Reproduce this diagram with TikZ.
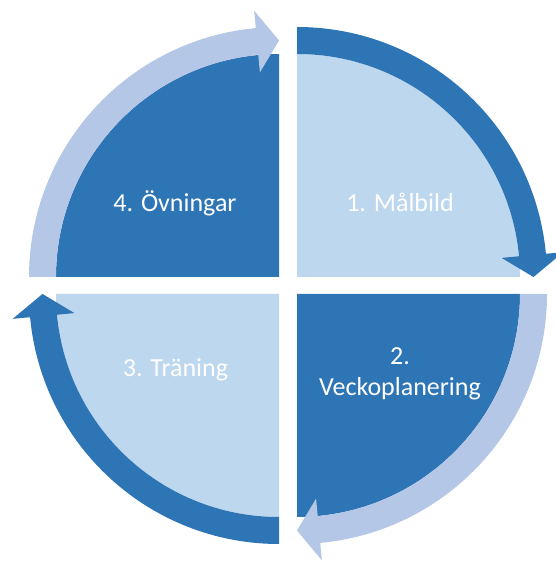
\documentclass[tikz,border=0pt]{standalone}
\usepackage{fontspec}
\setmainfont{Carlito}
\definecolor{darkq}{HTML}{2E75B6}
\definecolor{lightq}{HTML}{BDD7EE}
\definecolor{lightarr}{HTML}{B4C7E7}
\begin{document}
\begin{tikzpicture}[x=1pt,y=1pt,
  lbl/.style={text=white,font=\fontsize{26}{31}\selectfont,align=center,inner sep=0pt,anchor=base}]
\useasboundingbox (0,0) rectangle (556,563);
\clip (0,0) rectangle (556,563);
% top-left quadrant and its arrow
\begin{scope}[shift={(279,286)}]
  \fill[darkq] (0,0) -- (90:223) arc[start angle=90,end angle=180,radius=223] -- cycle;
  \fill[lightarr] (180:223) arc[start angle=180,end angle=95.33,radius=223]
    -- (95.33:205.5) -- (90:236.5) -- (95.33:267.5) -- (95.33:250)
    arc[start angle=95.33,end angle=180,radius=250] -- cycle;
\end{scope}
% top-right quadrant and its arrow
\begin{scope}[shift={(297,286)}]
  \fill[lightq] (0,0) -- (0:223) arc[start angle=0,end angle=90,radius=223] -- cycle;
  \fill[darkq] (90:223) arc[start angle=90,end angle=5.33,radius=223]
    -- (5.33:205.5) -- (0:236.5) -- (5.33:267.5) -- (5.33:250)
    arc[start angle=5.33,end angle=90,radius=250] -- cycle;
\end{scope}
% bottom-right quadrant and its arrow
\begin{scope}[shift={(297,269)}]
  \fill[darkq] (0,0) -- (-90:223) arc[start angle=-90,end angle=0,radius=223] -- cycle;
  \fill[lightarr] (0:223) arc[start angle=0,end angle=-84.67,radius=223]
    -- (-84.67:205.5) -- (-90:236.5) -- (-84.67:267.5) -- (-84.67:250)
    arc[start angle=-84.67,end angle=0,radius=250] -- cycle;
\end{scope}
% bottom-left quadrant and its arrow
\begin{scope}[shift={(279,269)}]
  \fill[lightq] (0,0) -- (180:223) arc[start angle=180,end angle=270,radius=223] -- cycle;
  \fill[darkq] (-90:223) arc[start angle=-90,end angle=-174.67,radius=223]
    -- (-174.67:205.5) -- (-180:236.5) -- (-174.67:267.5) -- (-174.67:250)
    arc[start angle=-174.67,end angle=-90,radius=250] -- cycle;
\end{scope}
% labels
\node[lbl] (q1) at (400,351) {1. Målbild};
\node[lbl] (q2) at (400,167) {2.\\Veckoplanering};
\node[lbl] (q3) at (175.5,186) {3. Träning};
\node[lbl] (q4) at (175,351) {4. Övningar};
\end{tikzpicture}
\end{document}
